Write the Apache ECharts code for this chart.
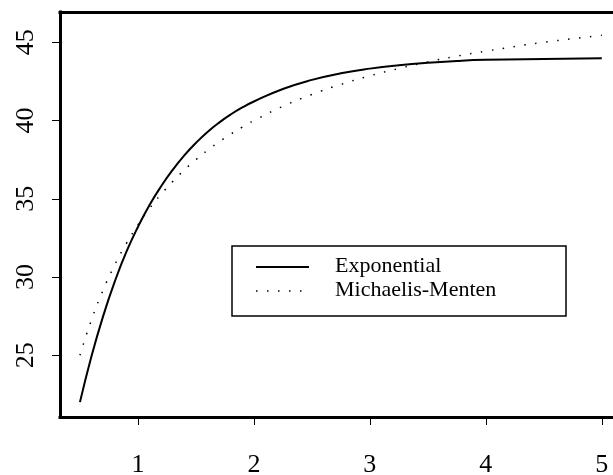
<!DOCTYPE html>
<html lang="en">
<head>
  <meta charset="UTF-8">
  <title>Exponential vs Michaelis-Menten</title>
  <script src="https://cdn.jsdelivr.net/npm/echarts@6.0.0/dist/echarts.min.js"></script>
  <style>
    html, body { margin: 0; padding: 0; background: #fff; }
  </style>
</head>
<body>
  <div id="main" style="width: 613px;height:475px;"></div>
  <script type="text/javascript">
    // values
    var xs = [0.5, 0.6, 0.7, 0.8, 0.9, 1.0, 1.1, 1.2, 1.3, 1.4, 1.5, 1.6, 1.7, 1.8, 1.9, 2.0,
              2.25, 2.5, 2.75, 3.0, 3.25, 3.5, 3.75, 4.0, 4.5, 5.0];
    var expVals = [22.0, 24.95, 27.5, 29.7, 31.6, 33.2, 34.6, 35.8, 36.85, 37.77, 38.57, 39.27, 39.87, 40.39, 40.84, 41.22,
                   42.02, 42.6, 43.02, 43.32, 43.54, 43.7, 43.81, 43.88, 43.94, 43.98];
    var mmVals = [25.0, 27.27, 29.17, 30.77, 32.14, 33.33, 34.38, 35.29, 36.11, 36.84, 37.5, 38.1, 38.64, 39.13, 39.58, 40.0,
                  40.91, 41.67, 42.31, 42.86, 43.33, 43.75, 44.12, 44.44, 45.0, 45.45];
    var xTicks = [1, 2, 3, 4, 5];
    var yTicks = [25, 30, 35, 40, 45];
    var seriesNames = ['Exponential', 'Michaelis-Menten'];

    var myChart = echarts.init(document.getElementById('main'));

    function pairs(vals) {
      return xs.map(function (x, i) { return [x, vals[i]]; });
    }

    var serif = '"Liberation Serif", "DejaVu Serif", serif';
    var boxLine = { color: '#000', width: 3, cap: 'square' };

    var option = {
      animation: false,
      grid: {
        left: 60, top: 12, right: -12, bottom: 58,
        show: false, containLabel: false, outerBoundsMode: 'none'
      },
      xAxis: [
        {
          type: 'value', min: 0.328, max: 5.2, position: 'bottom',
          axisLine: { show: true, lineStyle: boxLine },
          splitLine: { show: false },
          axisTick: { show: true, length: 8, customValues: xTicks, lineStyle: { color: '#000', width: 1 } },
          axisLabel: { customValues: xTicks, margin: 35, fontFamily: serif, fontSize: 26, color: '#000' }
        },
        {
          // top edge of the box
          type: 'value', min: 0.328, max: 5.2, position: 'top',
          axisLine: { show: true, onZero: false, lineStyle: boxLine },
          splitLine: { show: false }, axisTick: { show: false }, axisLabel: { show: false }
        }
      ],
      yAxis: {
        type: 'value', min: 21.05, max: 46.94,
        axisLine: { show: true, onZero: false, lineStyle: boxLine },
        splitLine: { show: false },
        axisTick: { show: true, length: 8, customValues: yTicks, lineStyle: { color: '#000', width: 1 } },
        axisLabel: { customValues: yTicks, rotate: 90, margin: 21, fontFamily: serif, fontSize: 26, color: '#000' }
      },
      series: [
        {
          name: seriesNames[0], type: 'line', smooth: true, showSymbol: false,
          data: pairs(expVals),
          lineStyle: { color: '#000', width: 2 }
        },
        {
          name: seriesNames[1], type: 'line', smooth: true, showSymbol: false,
          data: pairs(mmVals),
          lineStyle: { color: '#000', width: 1.5, type: [1.5, 9.5] }
        }
      ],
      // R-style legend box
      graphic: [
        { type: 'rect', shape: { x: 232, y: 246, width: 334, height: 70 },
          style: { fill: '#fff', stroke: '#000', lineWidth: 1.5 } },
        { type: 'line', shape: { x1: 256, y1: 267, x2: 309, y2: 267 },
          style: { stroke: '#000', lineWidth: 2 } },
        { type: 'line', shape: { x1: 256, y1: 291, x2: 311, y2: 291 },
          style: { stroke: '#000', lineWidth: 1.5, lineDash: [1.5, 9.5] } },
        { type: 'text', x: 335, y: 266,
          style: { text: seriesNames[0], font: '22px ' + serif, fill: '#000', verticalAlign: 'middle' } },
        { type: 'text', x: 335, y: 290,
          style: { text: seriesNames[1], font: '22px ' + serif, fill: '#000', verticalAlign: 'middle' } }
      ]
    };

    myChart.setOption(option);
  </script>
</body>
</html>
